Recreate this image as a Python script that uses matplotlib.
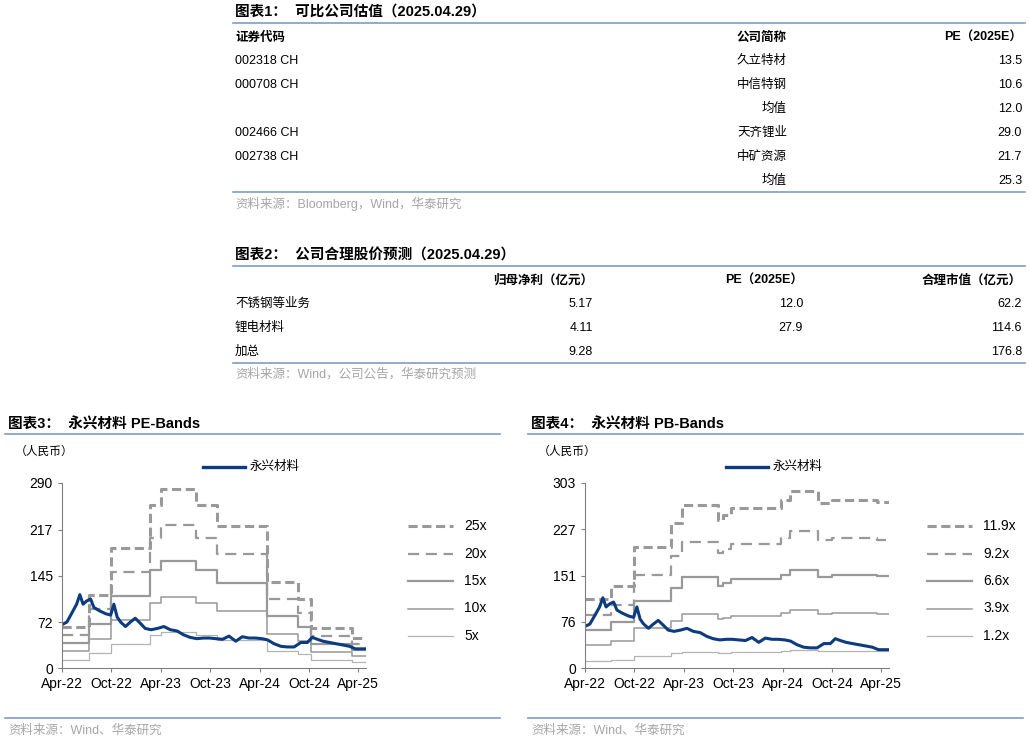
import matplotlib
matplotlib.use("Agg")
import matplotlib.pyplot as plt
import matplotlib.dates as mdates
import pandas as pd
from matplotlib.lines import Line2D

plt.rcParams['font.family'] = ['Liberation Sans', 'Noto Sans CJK SC']

# ---- table data
t1_codes = ["002318 CH", "000708 CH", "", "002466 CH", "002738 CH", ""]
t1_names = ["久立特材", "中信特钢", "均值", "天齐锂业", "中矿资源", "均值"]
t1_pe = ["13.5", "10.6", "12.0", "29.0", "21.7", "25.3"]

t2_items = ["不锈钢等业务", "锂电材料", "加总"]
t2_profit = ["5.17", "4.11", "9.28"]
t2_pe = ["12.0", "27.9", ""]
t2_cap = ["62.2", "114.6", "176.8"]

# ---- share price
price_dates = ["2022-04-01", "2022-04-19", "2022-05-06", "2022-05-25", "2022-06-06", "2022-06-18",
               "2022-07-01", "2022-07-16", "2022-07-28", "2022-08-16", "2022-09-10", "2022-09-28",
               "2022-10-10", "2022-10-22", "2022-11-04", "2022-11-22", "2022-12-10", "2022-12-28",
               "2023-01-16", "2023-02-03", "2023-02-25", "2023-03-20", "2023-04-13", "2023-05-07",
               "2023-06-01", "2023-06-25", "2023-07-19", "2023-08-13", "2023-09-07", "2023-09-28",
               "2023-10-22", "2023-11-16", "2023-12-10", "2024-01-04", "2024-01-28", "2024-02-22",
               "2024-03-16", "2024-04-10", "2024-05-01", "2024-05-25", "2024-06-19", "2024-07-13",
               "2024-08-07", "2024-09-01", "2024-09-25", "2024-10-13", "2024-11-01", "2024-11-22",
               "2024-12-16", "2025-01-10", "2025-02-04", "2025-02-28", "2025-03-22", "2025-04-29"]
price = [68, 72, 85, 100, 115, 100, 105, 108, 95, 90, 85, 83,
         100, 80, 72, 65, 72, 78, 70, 62, 60, 62, 65, 60,
         58, 52, 48, 46, 47, 47, 46, 45, 50, 42, 49, 47,
         47, 46, 44, 38, 34, 33, 33, 40, 40, 48, 45, 42,
         40, 38, 36, 34, 30, 30]

# ---- PE bands: EPS per step period
eps_dates = ["2022-04-01", "2022-07-10", "2022-10-01", "2023-02-20", "2023-04-01", "2023-08-10",
             "2023-10-28", "2024-04-28", "2024-08-20", "2024-10-08", "2025-03-08", "2025-04-29"]
eps = [2.6, 4.6, 7.5, 10.2, 11.2, 10.2, 8.9, 5.4, 4.3, 2.5, 1.9, 1.9]
pe_mult = [25, 20, 15, 10, 5]
pe_labels = ["25x", "20x", "15x", "10x", "5x"]

# ---- PB bands: BPS per step period
bps_dates = ["2022-04-01", "2022-07-05", "2022-09-28", "2023-02-15", "2023-03-25", "2023-08-05",
             "2023-08-25", "2023-09-25", "2024-03-28", "2024-04-28", "2024-08-12", "2024-10-01",
             "2025-03-15", "2025-04-29"]
bps = [9.5, 11.3, 16.6, 19.9, 22.5, 20.4, 21.1, 22.0, 23.1, 24.4, 22.7, 23.1, 22.8, 22.8]
pb_mult = [11.9, 9.2, 6.6, 3.9, 1.2]
pb_labels = ["11.9x", "9.2x", "6.6x", "3.9x", "1.2x"]

W, H = 1030, 743
fig = plt.figure(figsize=(W / 100, H / 100), dpi=100)
BLUE_LINE = "#7f9cc4"
NAVY = "#0d3b80"
GREY = "#999999"
SRC = "#a6a6a6"


def tx(x, y, s, ha="left", bold=False, size=9, color="black"):
    fig.text(x / W, 1 - y / H, s, ha=ha, va="center", fontsize=size,
             fontweight="bold" if bold else "normal", color=color)


def hline(x0, x1, y, lw=1.2, color=BLUE_LINE):
    fig.add_artist(Line2D([x0 / W, x1 / W], [1 - y / H, 1 - y / H], color=color, lw=lw))


TS = 9
# table 1
tx(235, 12, "图表1：  可比公司估值（2025.04.29）", bold=True, size=10.5)
hline(233, 1025, 23)
tx(235, 38, "证券代码", bold=True, size=TS)
tx(787, 38, "公司简称", ha="right", bold=True, size=TS)
tx(1022, 38, "PE（2025E）", ha="right", bold=True, size=TS)
for i in range(len(t1_names)):
    y = 61 + 24 * i
    tx(235, y, t1_codes[i], size=TS)
    tx(787, y, t1_names[i], ha="right", size=TS)
    tx(1022, y, t1_pe[i], ha="right", size=TS)
hline(233, 1025, 192)
tx(235, 204, "资料来源：Bloomberg，Wind，华泰研究", size=TS, color=SRC)

# table 2
tx(235, 255, "图表2：  公司合理股价预测（2025.04.29）", bold=True, size=10.5)
hline(233, 1025, 266)
tx(593, 281, "归母净利（亿元）", ha="right", bold=True, size=TS)
tx(803, 281, "PE（2025E）", ha="right", bold=True, size=TS)
tx(1022, 281, "合理市值（亿元）", ha="right", bold=True, size=TS)
for i in range(len(t2_items)):
    y = 304 + 24 * i
    tx(235, y, t2_items[i], size=TS)
    tx(593, y, t2_profit[i], ha="right", size=TS)
    tx(803, y, t2_pe[i], ha="right", size=TS)
    tx(1022, y, t2_cap[i], ha="right", size=TS)
hline(233, 1025, 363)
tx(235, 374, "资料来源：Wind，公司公告，华泰研究预测", size=TS, color=SRC)

pdates = pd.to_datetime(price_dates)
band_styles = [dict(color=GREY, lw=2.2, ls=(0, (3, 1.5))),
               dict(color=GREY, lw=1.6, ls=(0, (5, 3))),
               dict(color=GREY, lw=1.6, ls="-"),
               dict(color=GREY, lw=1.1, ls="-"),
               dict(color="#b3b3b3", lw=0.9, ls="-")]


def chart(x0, title, sdates, base, mults, labels, top, ticks, leg_x):
    tx(x0 + 3, 424, title, bold=True, size=10.5)
    hline(x0, x0 + 495, 434)
    tx(x0 + 10, 452, "（人民币）", size=8.5)
    ax = fig.add_axes([(x0 + 57) / W, 1 - 668 / H, 304 / W, (668 - 483) / H])
    d = pd.to_datetime(sdates)
    for m, st in zip(mults, band_styles):
        ax.step(d, [m * v for v in base], where="post", **st)
    ax.plot(pdates, price, color=NAVY, lw=2.2)
    ax.set_ylim(0, top)
    ax.set_yticks(ticks)
    ax.set_xlim(pd.Timestamp("2022-04-01"), pd.Timestamp("2025-04-30"))
    xt = pd.to_datetime(["2022-04-01", "2022-10-01", "2023-04-01", "2023-10-01",
                         "2024-04-01", "2024-10-01", "2025-04-01"])
    ax.set_xticks(xt)
    ax.xaxis.set_major_formatter(mdates.DateFormatter("%b-%y"))
    for s in ["top", "right"]:
        ax.spines[s].set_visible(False)
    for s in ["left", "bottom"]:
        ax.spines[s].set_color("#808080")
    ax.tick_params(labelsize=10, color="#808080", length=3)
    # price legend
    fig.add_artist(Line2D([(x0 + 198) / W, (x0 + 240) / W], [1 - 467 / H] * 2, color=NAVY, lw=2.4))
    tx(x0 + 245, 467, "永兴材料", size=9)
    for i, (lab, st) in enumerate(zip(labels, band_styles)):
        y = 526 + 27.5 * i
        fig.add_artist(Line2D([leg_x / W, (leg_x + 45) / W], [1 - y / H] * 2, **st))
        tx(leg_x + 56, y, lab, size=10)
    hline(x0, x0 + 495, 718)
    tx(x0 + 3, 731, "资料来源：Wind、华泰研究", size=9, color=SRC)


chart(5, "图表3：  永兴材料 PE-Bands", eps_dates, eps, pe_mult, pe_labels, 290,
      [0, 72, 145, 217, 290], 408)
chart(528, "图表4：  永兴材料 PB-Bands", bps_dates, bps, pb_mult, pb_labels, 303,
      [0, 76, 151, 227, 303], 927)

fig.savefig("out.png", dpi=100)
